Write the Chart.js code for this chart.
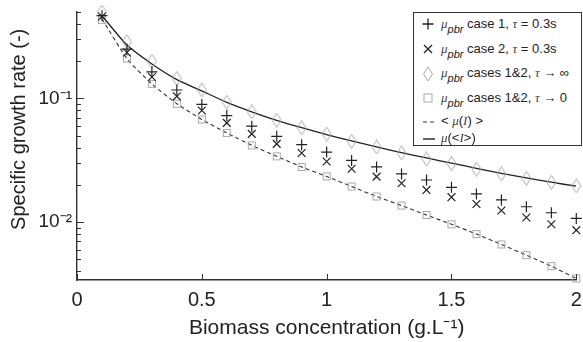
<!DOCTYPE html>
<html>
<head>
<meta charset="utf-8">
<script src="https://cdn.jsdelivr.net/npm/chart.js@4.4.1/dist/chart.umd.min.js"></script>
<style>
    body { margin: 0; background: #fff; }
    #wrap { position: relative; width: 583px; height: 342px; overflow: hidden; }
    #legend {
        position: absolute; left: 413px; top: 12px; width: 167px; height: 132px;
        border: 1.4px solid #333; background: #fff;
        font-family: 'Liberation Sans', Arial, sans-serif; font-size: 13px; color: #222;
    }
    .row { position: absolute; left: 0; height: 24px; line-height: 20px; white-space: nowrap; }
    .row svg { position: absolute; left: 6px; top: 3px; }
    .row .txt { position: absolute; left: 27px; top: 0; }
    .row sub { font-style: italic; font-size: 11px; vertical-align: -5px; line-height: 0; }
    .row i { font-family: 'Liberation Serif', serif; color: #444; }
</style>
</head>
<body>
<div id="wrap">
    <canvas id="chart" width="583" height="342"></canvas>
    <div id="legend">
        <div class="row" style="top:1px"><svg width="16" height="14"><path d="M2.5 7H13.5M8 1.5V12.5" stroke="#222" stroke-width="1.3"/></svg><span class="txt"><i>μ</i><sub>pbr</sub> case 1, <i>τ</i> = 0.3s</span></div>
        <div class="row" style="top:25.5px"><svg width="16" height="14"><path d="M4 3L12 11M12 3L4 11" stroke="#222" stroke-width="1.3"/></svg><span class="txt"><i>μ</i><sub>pbr</sub> case 2, <i>τ</i> = 0.3s</span></div>
        <div class="row" style="top:50px"><svg width="16" height="16"><path d="M8 1L12.5 8L8 15L3.5 8Z" fill="none" stroke="#aaa" stroke-width="1"/></svg><span class="txt"><i>μ</i><sub>pbr</sub> cases 1&amp;2, <i>τ</i> → ∞</span></div>
        <div class="row" style="top:74.5px"><svg width="16" height="14"><rect x="4" y="3" width="8" height="8" fill="none" stroke="#aaa" stroke-width="1"/></svg><span class="txt"><i>μ</i><sub>pbr</sub> cases 1&amp;2, <i>τ</i> → 0</span></div>
        <div class="row" style="top:98px"><svg width="20" height="14"><path d="M3 8H17" stroke="#333" stroke-width="1.2" stroke-dasharray="4,3"/></svg><span class="txt">&lt; <i>μ</i>(<i>I</i>) &gt;</span></div>
        <div class="row" style="top:115px"><svg width="20" height="14"><path d="M3 8H15" stroke="#222" stroke-width="1.4"/></svg><span class="txt"><i>μ</i>(&lt;<i>I</i>&gt;)</span></div>
    </div>
</div>
<script>
const biomass = [0.1, 0.2, 0.3, 0.4, 0.5, 0.6, 0.7, 0.8, 0.9, 1.0, 1.1, 1.2, 1.3, 1.4, 1.5, 1.6, 1.7, 1.8, 1.9, 2.0];
const muCase1 = [0.467, 0.25, 0.164, 0.117, 0.0894, 0.0727, 0.0596, 0.0494, 0.0423, 0.0368, 0.0315, 0.0279, 0.0245, 0.0219, 0.0191, 0.0169, 0.0151, 0.0133, 0.0119, 0.0107];
const muCase2 = [0.46, 0.235, 0.149, 0.104, 0.0798, 0.0634, 0.0517, 0.0429, 0.0362, 0.0309, 0.027, 0.0233, 0.0206, 0.0182, 0.0159, 0.014, 0.0124, 0.0109, 0.0096, 0.0086];
const muTauInf = [0.50, 0.287, 0.20, 0.145, 0.117, 0.0933, 0.078, 0.0667, 0.0578, 0.0515, 0.045, 0.0405, 0.0362, 0.0324, 0.0297, 0.0268, 0.0245, 0.0226, 0.0209, 0.0196];
const muTau0 = [0.43, 0.21, 0.131, 0.0906, 0.0675, 0.0526, 0.0417, 0.034, 0.0279, 0.0234, 0.0194, 0.0161, 0.0136, 0.0114, 0.0096, 0.008, 0.0066, 0.0054, 0.0044, 0.0035];
const meanOfMu = [0.44, 0.21, 0.131, 0.0906, 0.0675, 0.0526, 0.0417, 0.034, 0.0279, 0.0234, 0.0194, 0.0161, 0.0136, 0.0114, 0.0096, 0.008, 0.0066, 0.0054, 0.0044, 0.0035];
const muOfMean = [0.467, 0.27, 0.19, 0.142, 0.115, 0.093, 0.078, 0.0665, 0.058, 0.051, 0.0453, 0.0405, 0.0365, 0.033, 0.030, 0.0272, 0.0248, 0.0228, 0.021, 0.0195];

const xTickValues = [0, 0.5, 1, 1.5, 2];
const xTickLabels = ['0', '0.5', '1', '1.5', '2'];
const yMajorTicks = [0.01, 0.1];
const yTickLabels = ['10⁻²', '10⁻¹'];

const axisColor = '#333';
const markerGray = '#a8a8a8';

function pts(values) {
    return biomass.map((x, i) => ({ x: x, y: values[i] }));
}

// marker images for the open diamond and square
function makeMarker(kind) {
    const c = document.createElement('canvas');
    const ctx = c.getContext('2d');
    if (kind === 'diamond') {
        c.width = 11; c.height = 15;
        ctx.strokeStyle = markerGray;
        ctx.lineWidth = 1;
        ctx.beginPath();
        ctx.moveTo(5.5, 0.5); ctx.lineTo(10, 7.5); ctx.lineTo(5.5, 14.5); ctx.lineTo(1, 7.5);
        ctx.closePath();
        ctx.stroke();
    } else {
        c.width = 10; c.height = 10;
        ctx.strokeStyle = markerGray;
        ctx.lineWidth = 1;
        ctx.strokeRect(1.5, 1.5, 7, 7);
    }
    return c;
}

// inward tick marks like the original figure
const inwardTicks = {
    id: 'inwardTicks',
    afterDatasetsDraw(chart) {
        const { ctx, chartArea, scales } = chart;
        const x = scales.x, y = scales.y;
        ctx.save();
        ctx.strokeStyle = axisColor;
        ctx.lineWidth = 1;
        ctx.beginPath();
        xTickValues.forEach(v => {
            const px = Math.round(x.getPixelForValue(v)) + 0.5;
            ctx.moveTo(px, chartArea.bottom);
            ctx.lineTo(px, chartArea.bottom - 6);
        });
        for (let d = -3; d <= 0; d++) {
            for (let m = 1; m <= 9; m++) {
                const v = m * Math.pow(10, d);
                if (v < y.min || v > y.max) continue;
                const py = Math.round(y.getPixelForValue(v)) + 0.5;
                ctx.moveTo(chartArea.left, py);
                ctx.lineTo(chartArea.left + (m === 1 ? 7 : 4), py);
            }
        }
        ctx.stroke();
        ctx.restore();
    }
};

function loadGraph() {
    const config = {
        type: 'scatter',
        data: {
            datasets: [
                {
                    label: 'mu_pbr case 1, tau = 0.3s',
                    data: pts(muCase1),
                    pointStyle: 'cross',
                    pointRadius: 5.5,
                    borderColor: '#222',
                    pointBorderWidth: 1.2,
                    showLine: false,
                    clip: false
                },
                {
                    label: 'mu_pbr case 2, tau = 0.3s',
                    data: pts(muCase2),
                    pointStyle: 'crossRot',
                    pointRadius: 5.5,
                    borderColor: '#222',
                    pointBorderWidth: 1.2,
                    showLine: false,
                    clip: false
                },
                {
                    label: 'mu_pbr cases 1&2, tau -> inf',
                    data: pts(muTauInf),
                    pointStyle: makeMarker('diamond'),
                    showLine: false,
                    clip: false
                },
                {
                    label: 'mu_pbr cases 1&2, tau -> 0',
                    data: pts(muTau0),
                    pointStyle: makeMarker('square'),
                    showLine: false,
                    clip: false
                },
                {
                    label: '< mu(I) >',
                    type: 'line',
                    data: pts(meanOfMu),
                    borderColor: '#333',
                    borderWidth: 1.1,
                    borderDash: [4, 3],
                    pointRadius: 0,
                    fill: false,
                    tension: 0.2
                },
                {
                    label: 'mu(<I>)',
                    type: 'line',
                    data: pts(muOfMean),
                    borderColor: '#222',
                    borderWidth: 1.3,
                    pointRadius: 0,
                    fill: false,
                    tension: 0.2
                }
            ]
        },
        options: {
            responsive: false,
            animation: false,
            layout: { padding: { top: 12, right: 1, left: 0, bottom: 0 } },
            scales: {
                x: {
                    type: 'linear',
                    min: 0,
                    max: 2,
                    afterBuildTicks: axis => { axis.ticks = xTickValues.map(v => ({ value: v })); },
                    afterFit: axis => { axis.height = 62; axis.paddingLeft = 0; axis.paddingRight = 0; },
                    grid: { display: false, drawTicks: false },
                    border: { display: true, color: axisColor, width: 1.4 },
                    ticks: {
                        color: '#222',
                        padding: 8,
                        maxRotation: 0,
                        font: { family: 'Liberation Sans', size: 20 },
                        callback: v => xTickLabels[xTickValues.indexOf(v)]
                    },
                    title: {
                        display: true,
                        text: 'Biomass concentration (g.L⁻¹)',
                        color: '#222',
                        padding: { top: 0, bottom: 1 },
                        font: { family: 'Liberation Sans', size: 21 }
                    }
                },
                y: {
                    type: 'logarithmic',
                    min: 0.0034,
                    max: 0.5,
                    afterFit: axis => { axis.width = 77; axis.paddingTop = 0; axis.paddingBottom = 0; },
                    grid: { display: false, drawTicks: false },
                    border: { display: true, color: axisColor, width: 1.4 },
                    ticks: {
                        color: '#222',
                        padding: 5,
                        autoSkip: false,
                        font: { family: 'Liberation Sans', size: 19 },
                        callback: v => {
                            const i = yMajorTicks.findIndex(t => Math.abs(t - v) < t * 1e-6);
                            return i >= 0 ? yTickLabels[i] : '';
                        }
                    },
                    title: {
                        display: true,
                        // leading spaces nudge the title up, as in the original figure
                        text: '      Specific growth rate (-)',
                        color: '#222',
                        padding: { top: 7, bottom: 0 },
                        font: { family: 'Liberation Sans', size: 20 }
                    }
                }
            },
            plugins: {
                legend: { display: false },
                tooltip: { enabled: false }
            }
        },
        plugins: [inwardTicks]
    };

    const ctx = document.getElementById('chart').getContext('2d');
    new Chart(ctx, config);
}

document.addEventListener('DOMContentLoaded', loadGraph);
</script>
</body>
</html>
